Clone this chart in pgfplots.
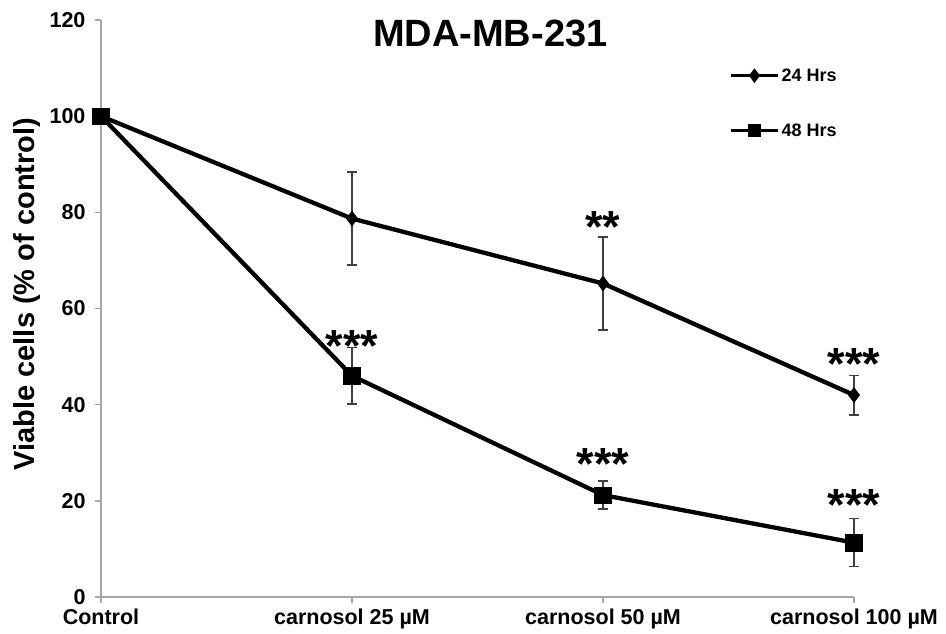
\documentclass[border=0pt]{standalone}
\usepackage{fontspec}
\setmainfont{Liberation Sans}
\usepackage{pgfplots}
\pgfplotsset{compat=1.18}
\definecolor{axisgray}{HTML}{A6A6A6}
\definecolor{errgray}{HTML}{404040}
\begin{document}
\begin{tikzpicture}[x=1pt,y=1pt]
\path[use as bounding box] (-101,-37) rectangle (845,597);
\begin{axis}[
  at={(0,0)}, anchor=south west,
  width=753pt, height=577pt, scale only axis,
  xmin=0, xmax=3, ymin=0, ymax=120,
  axis x line=bottom, axis y line=left,
  axis line style={draw=axisgray, line width=1.5pt, -},
  xtick={0,1,2,3},
  xticklabels={Control, carnosol 25 µM, carnosol 50 µM, carnosol 100 µM},
  ytick={0,20,...,120},
  tick align=outside, major tick length=6pt,
  tick style={draw=axisgray, line width=1.5pt},
  ticklabel style={font=\fontsize{21.5}{24}\selectfont\bfseries},
  yticklabel style={xshift=-6pt},
  xticklabel style={yshift=-2pt},
  /pgf/number format/assume math mode=true,
  ylabel={Viable cells (\% of control)},
  ylabel style={font=\fontsize{29}{32}\selectfont\bfseries, at={(axis description cs:-0.098,0.525)}, anchor=center},
  clip=false,
  legend style={draw=none, fill=none, at={(rel axis cs:0.834,0.9195)}, anchor=north west,
    font=\fontsize{18}{20}\selectfont\bfseries, row sep=37pt, inner sep=0pt},
  legend cell align=left,
  legend image code/.code={\draw[mark repeat=2,mark phase=2] plot coordinates {(0pt,0pt) (23.5pt,0pt) (47pt,0pt)};},
]
\addlegendimage{black, line width=3.5pt, mark=diamond*, mark size=4.5pt}
\addlegendentry{24 Hrs}
\addlegendimage{black, line width=3.5pt, mark=square*, mark size=5pt}
\addlegendentry{48 Hrs}

\addplot[black, line width=4.3pt, mark=diamond*, mark size=7.5pt, mark options={line width=0.5pt}, forget plot,
  error bars/.cd, y dir=both, y explicit,
  error bar style={line width=1.5pt, draw=errgray},
  error mark options={rotate=90, mark size=5pt, line width=1.5pt, draw=errgray}]
  coordinates {(0,100) +- (0,0) (1,78.7) +- (0,9.7) (2,65.2) +- (0,9.7) (3,42.0) +- (0,4.1)};
\addplot[black, line width=4.3pt, mark=square*, mark size=8.3pt, mark options={line width=0.5pt}, forget plot,
  error bars/.cd, y dir=both, y explicit,
  error bar style={line width=1.5pt, draw=errgray},
  error mark options={rotate=90, mark size=5pt, line width=1.5pt, draw=errgray}]
  coordinates {(0,100) +- (0,0) (1,46.0) +- (0,5.9) (2,21.2) +- (0,2.9) (3,11.3) +- (0,5.0)};

\node[font=\fontsize{38}{40}\selectfont\bfseries] at (rel axis cs:0.517,0.976) {MDA-MB-231};

\begin{scope}[every node/.style={font=\fontsize{45}{45}\selectfont\bfseries, anchor=north, inner sep=0pt}]
\node at (axis cs:1,55.5) {***};
\node at (axis cs:2,80.3) {**};
\node at (axis cs:2,31.0) {***};
\node at (axis cs:3,51.8) {***};
\node at (axis cs:3,22.3) {***};
\end{scope}
\end{axis}
\end{tikzpicture}
\end{document}
